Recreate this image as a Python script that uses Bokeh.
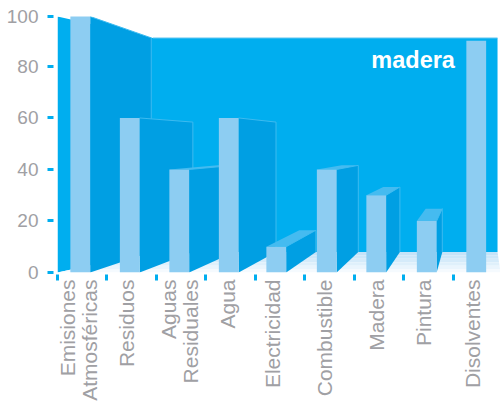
from bokeh.plotting import figure
from bokeh.models import FixedTicker, Range1d
from bokeh.core.properties import value
from bokeh.embed import file_html
from bokeh.resources import INLINE

categories = ["Emisiones\nAtmosféricas", "Residuos", "Aguas\nResiduales", "Agua", "Electricidad",
              "Combustible", "Madera", "Pintura", "Disolventes"]
values = [100, 60, 40, 60, 10, 40, 30, 20, 90]
y_ticks = [0, 20, 40, 60, 80]
title_text = "madera"

WALL, SIDE, FACE, TOP, EDGE = "#00AEEF", "#009FE3", "#8DCDF2", "#45BBF0", "#3DBBF0"
GREY = "#A0A0A4"
FLOOR = ["#C5E3F8", "#CCE7F9", "#D5EBFA", "#DFF0FB", "#EAF5FD", "#F5FAFE"]

Y_END = 99.4     # frame top; the top tick and the tallest bar sit at this edge
X_END = 8.95
K = 0.84         # perspective shrink of the back plane
FLOOR_DEPTH = 8.0
WALL_TOP = 91.1
C = 1.34         # perspective offset along x, in category units
BAR_LEFT = 0.26
BAR_W = 0.40
BAR_SHIFT = [0, 0, 0, 0, -0.04, -0.02, -0.02, 0, 0]
LABEL_POS = [0.42, 0.40, 0.47, 0.44, 0.35, 0.40, 0.44, 0.40, 0.38]

def back_x(x):
    return K * x + C

def back_y(v):
    return min(FLOOR_DEPTH + K * v, WALL_TOP)

p = figure(width=500, height=405, output_backend="svg", toolbar_location=None,
           x_range=Range1d(0, X_END), y_range=Range1d(0, Y_END),
           min_border_left=57, min_border_right=0, min_border_top=16, min_border_bottom=133)
p.outline_line_color = None
p.grid.visible = False
p.background_fill_color = "white"

# Walls
wall_x = 1.93
p.patch([0, wall_x, X_END - 0.06, X_END - 0.06, wall_x, 0],
        [Y_END, WALL_TOP, WALL_TOP, FLOOR_DEPTH, FLOOR_DEPTH, 0], color=WALL, line_width=0)
p.line([wall_x, X_END - 0.06], [WALL_TOP, WALL_TOP], color="#7FD0F3", line_width=1)

# Floor, in bands
n = len(FLOOR)
xl = lambda y: wall_x * y / FLOOR_DEPTH
xr = lambda y: X_END - 0.06 * y / FLOOR_DEPTH
for i, c in enumerate(FLOOR):
    y1 = FLOOR_DEPTH * (1 - i / n)
    y0 = FLOOR_DEPTH * (1 - (i + 1) / n)
    p.patch([xl(y1), xr(y1), xr(y0), xl(y0)], [y1, y1, y0, y0], color=c, line_width=0)

# Bars, left to right so each covers the side of the previous one
for i, v in enumerate(values):
    x0 = i + BAR_LEFT + BAR_SHIFT[i]
    x1 = x0 + BAR_W
    vf = min(v, Y_END)
    bx1 = back_x(x1)
    bx0 = back_x(x0)
    by = back_y(v)
    if bx1 > x1:
        p.patch([x1, bx1, bx1, x1], [vf, by, FLOOR_DEPTH, 0], color=SIDE, line_width=0)
        p.line([x1, bx1, bx1], [vf, by, FLOOR_DEPTH], color=EDGE, line_width=1)
    if by > vf:
        p.patch([x0, x1, bx1, bx0], [vf, vf, by, by], color=TOP, line_width=0)
    p.quad(left=[x0], right=[x1], bottom=[0], top=[v], color=FACE, line_width=0)

p.text([6.34], [82.6], text=[title_text], text_color="white", text_font=value("Liberation Sans"),
       text_font_style="bold", text_font_size="23.5px", text_baseline="middle", text_align="left")

# Y axis
yax = p.yaxis[0]
yax.ticker = FixedTicker(ticks=y_ticks + [Y_END])
yax.major_label_overrides = {Y_END: "100"}
yax.axis_line_color = None
yax.minor_tick_line_color = None
yax.major_tick_line_color = WALL
yax.major_tick_line_width = 3
yax.major_tick_in = -4
yax.major_tick_out = 10
yax.major_label_standoff = 9
yax.major_label_text_color = GREY
yax.major_label_text_font = "Liberation Sans"
yax.major_label_text_font_size = "19px"

# X axis: labels on major ticks, the marks between categories on minor ticks
label_ticks = [i + d for i, d in enumerate(LABEL_POS)]
xax = p.xaxis[0]
xax.ticker = FixedTicker(ticks=label_ticks, minor_ticks=list(range(len(categories))))
xax.major_label_overrides = dict(zip(label_ticks, categories))
xax.major_label_orientation = 1.5707963
xax.axis_line_color = None
xax.major_tick_line_color = None
xax.major_tick_in = 0
xax.major_tick_out = 0
xax.minor_tick_line_color = WALL
xax.minor_tick_line_width = 3
xax.minor_tick_in = -2
xax.minor_tick_out = 8
xax.major_label_standoff = -1
xax.major_label_text_color = GREY
xax.major_label_text_font = "Liberation Sans"
xax.major_label_text_font_size = "21px"
xax.major_label_text_line_height = 0.95

open("out.html", "w").write(file_html(p, INLINE))
